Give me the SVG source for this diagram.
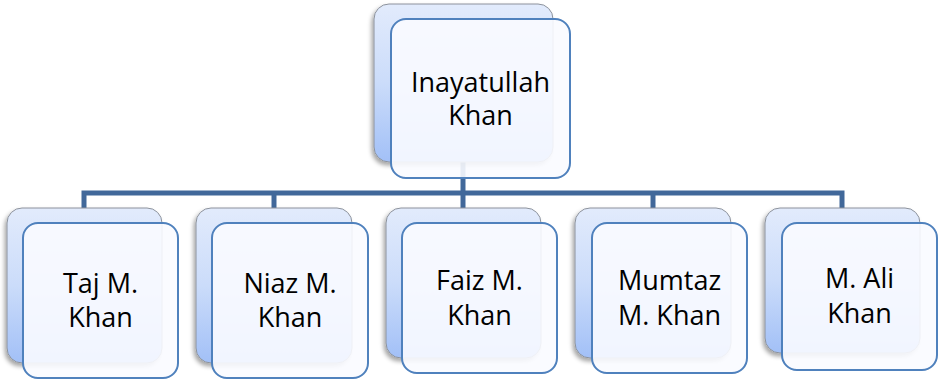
<svg xmlns="http://www.w3.org/2000/svg" width="943" height="380" viewBox="0 0 943 380">
<defs>
<linearGradient id="backGrad" x1="0" y1="0" x2="0" y2="1">
<stop offset="0" stop-color="#e2ebfc"/>
<stop offset="0.5" stop-color="#cbdcfa"/>
<stop offset="1" stop-color="#a2c0f7"/>
</linearGradient>
<filter id="shadow" x="-10%" y="-10%" width="120%" height="120%">
<feDropShadow dx="-2" dy="3" stdDeviation="2" flood-color="#000" flood-opacity="0.35"/>
</filter>
</defs>
<style>
.back{fill:url(#backGrad);stroke:#8c929c;stroke-width:1;filter:url(#shadow)}
.front{fill:#f9fbff;fill-opacity:0.9;stroke:#4f81bd;stroke-width:2}
.lbl{font-family:"Open Sans","Liberation Sans",sans-serif;font-size:27px;fill:#000;text-anchor:middle}
.conn{fill:none;stroke:#41689a;stroke-width:5}
</style>
<rect width="943" height="380" fill="#fff"/>
<g id="connectors">
<path class="conn" d="M84,208 V193 H842 V208"/>
<path class="conn" d="M463,162 V193"/>
<path class="conn" d="M274,193 V208"/>
<path class="conn" d="M463,193 V208"/>
<path class="conn" d="M653,193 V208"/>
</g>
<g id="node-inayatullah">
<rect class="back" x="374" y="4" width="179" height="158" rx="15"/>
<rect class="front" x="391" y="19" width="179" height="159" rx="15"/>
<text class="lbl" x="480.5" y="92">Inayatullah</text>
<text class="lbl" x="480.5" y="125">Khan</text>
</g>
<g id="node-taj">
<rect class="back" x="7" y="208" width="155" height="155" rx="15"/>
<rect class="front" x="23" y="223" width="155" height="155" rx="15"/>
<text class="lbl" x="100.5" y="293">Taj M.</text>
<text class="lbl" x="100.5" y="327">Khan</text>
</g>
<g id="node-niaz">
<rect class="back" x="196" y="208" width="156" height="155" rx="15"/>
<rect class="front" x="212" y="223" width="156" height="155" rx="15"/>
<text class="lbl" x="290" y="293">Niaz M.</text>
<text class="lbl" x="290" y="327">Khan</text>
</g>
<g id="node-faiz">
<rect class="back" x="386" y="208" width="155" height="150" rx="15"/>
<rect class="front" x="402" y="223" width="155" height="150" rx="15"/>
<text class="lbl" x="479.5" y="290">Faiz M.</text>
<text class="lbl" x="479.5" y="325">Khan</text>
</g>
<g id="node-mumtaz">
<rect class="back" x="575" y="208" width="156" height="150" rx="15"/>
<rect class="front" x="592" y="223" width="155" height="150" rx="15"/>
<text class="lbl" x="669.5" y="290">Mumtaz</text>
<text class="lbl" x="669.5" y="325">M. Khan</text>
</g>
<g id="node-ali">
<rect class="back" x="765" y="208" width="155" height="145" rx="15"/>
<rect class="front" x="782" y="223" width="155" height="147" rx="15"/>
<text class="lbl" x="859.5" y="288">M. Ali</text>
<text class="lbl" x="859.5" y="323">Khan</text>
</g>
</svg>
